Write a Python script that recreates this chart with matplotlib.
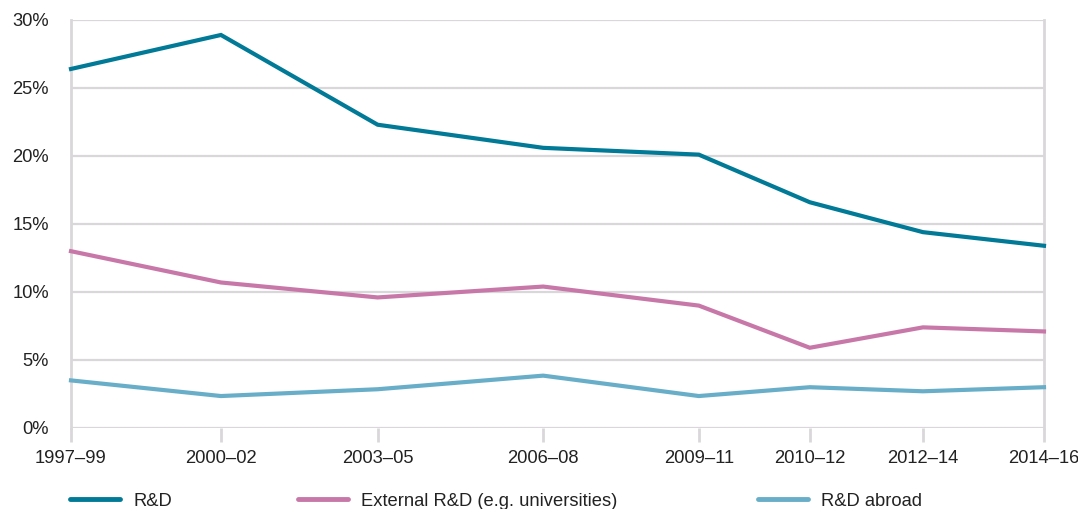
import matplotlib
matplotlib.use("Agg")
import matplotlib.pyplot as plt
from matplotlib.lines import Line2D

plt.rcParams['font.family'] = ['Liberation Sans', 'DejaVu Sans']

periods = ["1997–99", "2000–02", "2003–05", "2006–08", "2009–11", "2010–12", "2012–14", "2014–16"]
period_pos = [0, 1, 2.045, 3.149, 4.187, 4.927, 5.682, 6.489]

rnd = [26.4, 28.9, 22.3, 20.6, 20.1, 16.6, 14.4, 13.4]
external_rnd = [13.0, 10.7, 9.6, 10.4, 9.0, 5.9, 7.4, 7.1]
rnd_abroad = [3.5, 2.35, 2.85, 3.85, 2.35, 3.0, 2.7, 3.0]

series_names = ["R&D", "External R&D (e.g. universities)", "R&D abroad"]
series_colors = ["#007A96", "#C878A8", "#68AEC8"]
y_ticks = [0, 5, 10, 15, 20, 25, 30]

W, H = 1078, 509
fig = plt.figure(figsize=(W / 100, H / 100), dpi=100)
ax = fig.add_axes([71 / W, 1 - 428 / H, (1044 - 71) / W, (428 - 20) / H])

grid_color = "#D9D7DA"
for y in y_ticks:
    ax.axhline(y, color=grid_color, lw=1.6, zorder=1)

for vals, name, col in zip([rnd, external_rnd, rnd_abroad], series_names, series_colors):
    ax.plot(period_pos, vals, color=col, lw=3.0, label=name, zorder=3,
            solid_joinstyle="miter", clip_on=False)

ax.set_xlim(period_pos[0], period_pos[-1])
ax.set_ylim(0, 30)
ax.set_yticks(y_ticks)
ax.set_yticklabels([f"{v}%" for v in y_ticks])
ax.set_xticks(period_pos)
ax.set_xticklabels(periods)

for side in ["top", "bottom"]:
    ax.spines[side].set_visible(False)
for side in ["left", "right"]:
    ax.spines[side].set_color(grid_color)
    ax.spines[side].set_linewidth(2)

fs = 13.2
ax.tick_params(axis="y", length=0, pad=16, labelsize=fs, labelcolor="#222222")
ax.tick_params(axis="x", length=10, width=2, color=grid_color, pad=6,
               labelsize=fs, labelcolor="#222222")

legend_x = [70, 298, 758]
for name, col, lx in zip(series_names, series_colors, legend_x):
    handle = Line2D([], [], color=col, lw=3.5, solid_capstyle="round")
    fig.legend([handle], [name], loc="center left",
               bbox_to_anchor=(lx / W, 1 - 501 / H), frameon=False,
               borderpad=0, borderaxespad=0, handlelength=2.75,
               handletextpad=0.7, fontsize=fs, labelcolor="#222222")

fig.savefig("out.png", dpi=100, facecolor="white")
